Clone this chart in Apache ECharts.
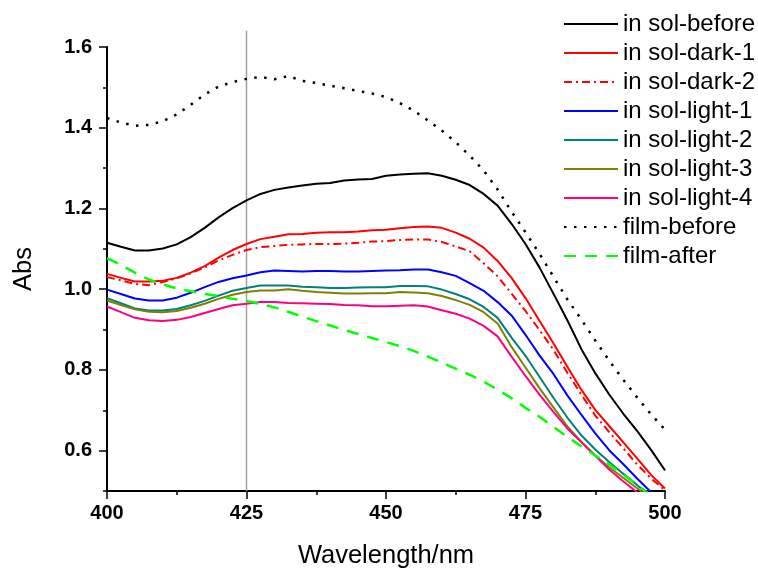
<!DOCTYPE html>
<html lang="en">
<head>
    <meta charset="UTF-8">
    <title>Absorption spectra</title>
    <style>
        html, body { margin: 0; padding: 0; background: #fff; }
        #chart { width: 758px; height: 569px; }
    </style>
</head>
<body>
<div id="chart"></div>

<script src="https://cdn.jsdelivr.net/npm/echarts@6/dist/echarts.min.js"></script>
<script>
    // wavelength grid (nm)
    const wavelengths = [400, 402.5, 405, 407.5, 410, 412.5, 415, 417.5, 420, 422.5,
        425, 427.5, 430, 432.5, 435, 437.5, 440, 442.5, 445, 447.5,
        450, 452.5, 455, 457.5, 460, 462.5, 465, 467.5, 470, 472.5,
        475, 477.5, 480, 482.5, 485, 487.5, 490, 492.5, 495, 497.5, 500];

    const solBefore = [1.115, 1.105, 1.096, 1.096, 1.101, 1.111, 1.129, 1.152, 1.178, 1.201,
        1.220, 1.236, 1.246, 1.252, 1.257, 1.261, 1.263, 1.269, 1.272, 1.273,
        1.281, 1.284, 1.286, 1.287, 1.281, 1.271, 1.258, 1.236, 1.207, 1.162,
        1.112, 1.054, 0.989, 0.923, 0.852, 0.792, 0.739, 0.692, 0.649, 0.602, 0.551];
    const solDark1 = [1.038, 1.028, 1.019, 1.019, 1.021, 1.028, 1.041, 1.057, 1.078, 1.097,
        1.112, 1.124, 1.130, 1.136, 1.137, 1.140, 1.141, 1.141, 1.143, 1.146,
        1.147, 1.151, 1.154, 1.155, 1.152, 1.140, 1.125, 1.103, 1.070, 1.028,
        0.978, 0.922, 0.866, 0.808, 0.751, 0.701, 0.661, 0.621, 0.581, 0.540, 0.506];
    const solDark2 = [1.030, 1.022, 1.013, 1.010, 1.018, 1.027, 1.039, 1.054, 1.071, 1.085,
        1.097, 1.104, 1.107, 1.110, 1.111, 1.112, 1.112, 1.113, 1.115, 1.118,
        1.119, 1.122, 1.123, 1.123, 1.117, 1.106, 1.094, 1.064, 1.032, 0.989,
        0.946, 0.899, 0.850, 0.793, 0.739, 0.687, 0.646, 0.606, 0.566, 0.531, 0.502];
    const solLight1 = [0.999, 0.988, 0.977, 0.972, 0.972, 0.979, 0.991, 1.005, 1.018, 1.027,
        1.034, 1.042, 1.046, 1.045, 1.044, 1.045, 1.045, 1.044, 1.044, 1.045,
        1.046, 1.047, 1.049, 1.049, 1.042, 1.033, 1.015, 0.996, 0.968, 0.935,
        0.887, 0.836, 0.790, 0.737, 0.689, 0.643, 0.601, 0.567, 0.531, 0.497, 0.470];
    const solLight2 = [0.978, 0.965, 0.952, 0.947, 0.947, 0.951, 0.960, 0.971, 0.984, 0.996,
        1.003, 1.009, 1.009, 1.009, 1.006, 1.005, 1.003, 1.003, 1.004, 1.005,
        1.005, 1.008, 1.008, 1.007, 0.999, 0.988, 0.975, 0.956, 0.929, 0.880,
        0.835, 0.783, 0.731, 0.682, 0.638, 0.603, 0.572, 0.543, 0.515, 0.485, 0.460];
    const solLight3 = [0.972, 0.961, 0.950, 0.944, 0.943, 0.946, 0.954, 0.964, 0.976, 0.986,
        0.993, 0.997, 0.997, 1.000, 0.996, 0.993, 0.991, 0.989, 0.989, 0.990,
        0.990, 0.993, 0.992, 0.990, 0.983, 0.973, 0.961, 0.943, 0.915, 0.857,
        0.806, 0.755, 0.707, 0.660, 0.622, 0.588, 0.559, 0.533, 0.507, 0.480, 0.450];
    const solLight4 = [0.957, 0.943, 0.929, 0.923, 0.921, 0.924, 0.931, 0.941, 0.951, 0.960,
        0.964, 0.968, 0.968, 0.966, 0.965, 0.964, 0.963, 0.961, 0.960, 0.958,
        0.958, 0.959, 0.960, 0.957, 0.948, 0.939, 0.927, 0.909, 0.883, 0.833,
        0.785, 0.739, 0.696, 0.655, 0.621, 0.587, 0.553, 0.524, 0.497, 0.467, 0.440];
    const filmBefore = [1.424, 1.413, 1.405, 1.407, 1.416, 1.433, 1.457, 1.482, 1.502, 1.513,
        1.521, 1.526, 1.520, 1.528, 1.516, 1.511, 1.504, 1.498, 1.491, 1.485,
        1.476, 1.461, 1.442, 1.418, 1.393, 1.364, 1.331, 1.294, 1.247, 1.192,
        1.141, 1.088, 1.031, 0.975, 0.925, 0.873, 0.823, 0.776, 0.732, 0.690, 0.652];
    const filmAfter = [1.077, 1.060, 1.041, 1.024, 1.012, 1.002, 0.995, 0.988, 0.983, 0.976,
        0.971, 0.963, 0.955, 0.944, 0.932, 0.921, 0.910, 0.899, 0.889, 0.879,
        0.869, 0.859, 0.847, 0.833, 0.818, 0.803, 0.788, 0.771, 0.751, 0.730,
        0.706, 0.684, 0.659, 0.634, 0.611, 0.588, 0.566, 0.541, 0.515, 0.488, 0.460];

    const yLabels = [0.6, 0.8, 1.0, 1.2, 1.4, 1.6];
    const markerX = 425;

    const font = "'Liberation Sans', Arial, sans-serif";
    const pairs = arr => wavelengths.map((w, i) => [w, arr[i]]);

    function curve(name, values, color, type, width) {
        return {
            name: name,
            type: 'line',
            data: pairs(values),
            symbol: 'none',
            lineStyle: { color: color, width: width || 2, type: type || 'solid' },
            itemStyle: { color: color }
        };
    }

    const chart = echarts.init(document.getElementById('chart'));
    const option = {
        animation: false,
        grid: { left: 107, right: 93, top: 47, bottom: 78, outerBoundsMode: 'none' },
        legend: {
            orient: 'vertical',
            left: 563,
            top: 12,
            padding: 0,
            itemWidth: 54,
            itemHeight: 14,
            itemGap: 5,
            itemStyle: { opacity: 0 },
            textStyle: { fontFamily: font, fontSize: 24, lineHeight: 22, color: '#000' },
            data: ['in sol-before', 'in sol-dark-1', 'in sol-dark-2', 'in sol-light-1',
                'in sol-light-2', 'in sol-light-3', 'in sol-light-4', 'film-before', 'film-after']
        },
        xAxis: {
            type: 'value',
            min: 400,
            max: 500,
            interval: 25,
            name: 'Wavelength/nm',
            nameLocation: 'middle',
            nameGap: 52,
            nameTextStyle: { fontFamily: font, fontSize: 25.5, color: '#000' },
            axisLine: { lineStyle: { color: '#000', width: 2 } },
            axisTick: { length: 8, lineStyle: { color: '#000', width: 1.5 } },
            minorTick: { show: true, splitNumber: 2, length: 4, lineStyle: { color: '#000', width: 1.5 } },
            splitLine: { show: false },
            axisLabel: { fontFamily: font, fontSize: 20, fontWeight: 'bold', color: '#000', margin: 12 }
        },
        yAxis: [{
            type: 'value',
            min: 0.5,
            max: 1.6,
            interval: 0.1,
            name: 'Abs',
            nameLocation: 'middle',
            nameGap: 70,
            nameTextStyle: { fontFamily: font, fontSize: 25.5, color: '#000' },
            axisLine: { show: true, lineStyle: { color: '#000', width: 2 } },
            axisTick: { length: 4, lineStyle: { color: '#000', width: 1.5 } },
            splitLine: { show: false },
            axisLabel: {
                customValues: yLabels,
                formatter: v => v.toFixed(1),
                fontFamily: font, fontSize: 20, fontWeight: 'bold', color: '#000', margin: 15
            }
        }, {
            type: 'value',
            position: 'left',
            min: 0.5,
            max: 1.6,
            axisLine: { show: false },
            axisLabel: { show: false },
            splitLine: { show: false },
            axisTick: { show: true, customValues: yLabels, length: 8, lineStyle: { color: '#000', width: 1.5 } }
        }],
        series: [
            {
                name: 'marker',
                type: 'line',
                data: [[markerX, 0.5], [markerX, 1.64]],
                symbol: 'none',
                clip: false,
                silent: true,
                z: 1,
                lineStyle: { color: '#a0a0a0', width: 1.5 }
            },
            curve('in sol-before', solBefore, '#000000'),
            curve('in sol-dark-1', solDark1, '#ff0000'),
            curve('in sol-dark-2', solDark2, '#ff0000', [8, 4, 2, 4]),
            curve('in sol-light-1', solLight1, '#0000ff'),
            curve('in sol-light-2', solLight2, '#008080'),
            curve('in sol-light-3', solLight3, '#808000'),
            curve('in sol-light-4', solLight4, '#ff0080'),
            curve('film-before', filmBefore, '#000000', [2.5, 7.5], 2.5),
            curve('film-after', filmAfter, '#00ff00', [12, 9], 2.5)
        ]
    };
    chart.setOption(option);
</script>
</body>
</html>
